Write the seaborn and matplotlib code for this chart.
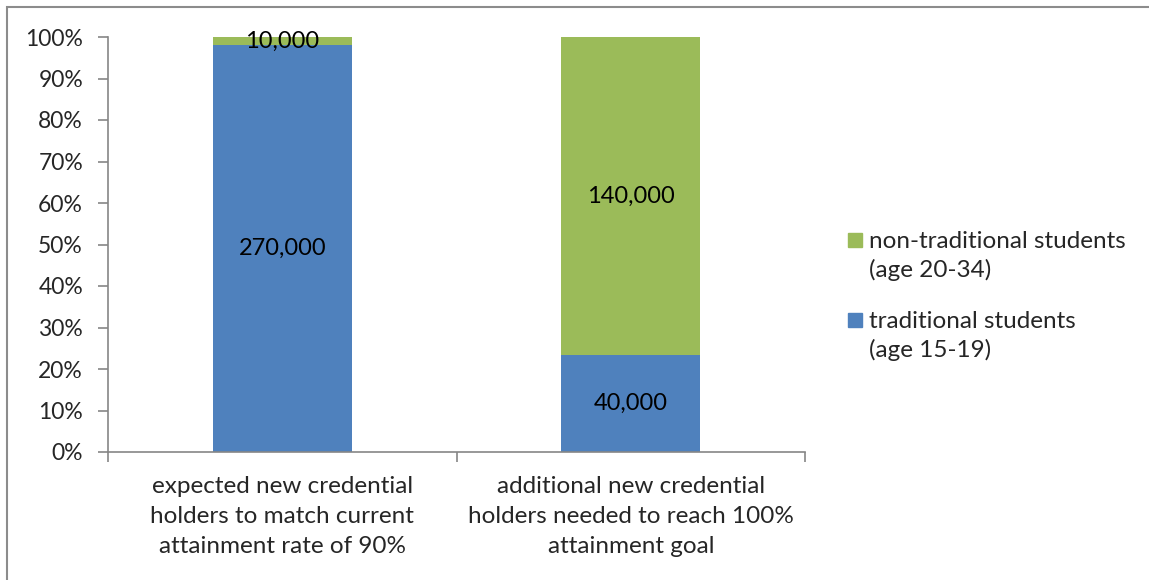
import matplotlib.pyplot as plt
import seaborn as sns
import pandas as pd
from matplotlib.patches import Rectangle

sns.set_style('white')
plt.rcParams['font.family'] = ['Lato', 'DejaVu Sans']

categories = ['expected new credential\nholders to match current\nattainment rate of 90%',
              'additional new credential\nholders needed to reach 100%\nattainment goal']
traditional_share = [0.98, 0.234]
nontraditional_share = [0.02, 0.766]
traditional_labels = ['270,000', '40,000']
nontraditional_labels = ['10,000', '140,000']
legend_names = ['non-traditional students\n(age 20-34)', 'traditional students\n(age 15-19)']

blue = '#4F81BD'
green = '#9BBB59'

df = pd.DataFrame({'cat': categories, 'trad': traditional_share, 'nontrad': nontraditional_share})

fig = plt.figure(figsize=(11.49, 5.8), dpi=100)
ax = fig.add_axes([108 / 1149, 1 - 452 / 580, (805 - 108) / 1149, (452 - 37) / 580])

sns.barplot(data=df, x='cat', y='trad', color=blue, width=0.4, ax=ax, saturation=1, linewidth=0)
sns.barplot(data=df, x='cat', y='nontrad', color=green, width=0.4, ax=ax, saturation=1, linewidth=0,
            bottom=df['trad'])

for i in range(len(categories)):
    t = traditional_share[i]
    n = nontraditional_share[i]
    ax.text(i, t / 2, traditional_labels[i], ha='center', va='center', fontsize=17, color='black')
    ax.text(i, t + n / 2, nontraditional_labels[i], ha='center', va='center', fontsize=17, color='black')

ax.set_xlim(-0.5, 1.5)
ax.set_ylim(0, 1)
ax.set_yticks([i / 10 for i in range(11)])
ax.set_yticklabels([f'{i * 10}%' for i in range(11)], fontsize=16.5)
ax.set_xticks([-0.5, 0.5, 1.5], minor=True)
ax.set_xticks([0, 1])
ax.set_xticklabels(categories, fontsize=17.5, linespacing=1.55)
ax.tick_params(axis='x', which='major', length=0, pad=17)
ax.tick_params(axis='x', which='minor', length=7, color='#868686', width=1.2, direction='out', bottom=True)
ax.tick_params(axis='y', length=7, color='#868686', width=1.2, direction='out', left=True, pad=11)
ax.set_xlabel('')
ax.set_ylabel('')
for s in ['top', 'right']:
    ax.spines[s].set_visible(False)
for s in ['left', 'bottom']:
    ax.spines[s].set_color('#868686')
    ax.spines[s].set_linewidth(1.2)

# legend: square beside the first line of each two-line entry
for k, (name, col) in enumerate(zip(legend_names, [green, blue])):
    yc = 1 - (240 + 80 * k) / 580
    fig.patches.append(Rectangle((848 / 1149, yc - 7 / 580), 14 / 1149, 14 / 580,
                                 transform=fig.transFigure, color=col))
    fig.text(869 / 1149, yc + 9 / 580, name, ha='left', va='top', fontsize=17.5, linespacing=1.4)

fig.patches.append(Rectangle((7 / 1149, -0.05), 1.2, 1 - 7 / 580 + 0.05, transform=fig.transFigure,
                             fill=False, edgecolor='#8c8c8c', linewidth=1.5))

plt.savefig('out.png', dpi=100)
plt.close()
